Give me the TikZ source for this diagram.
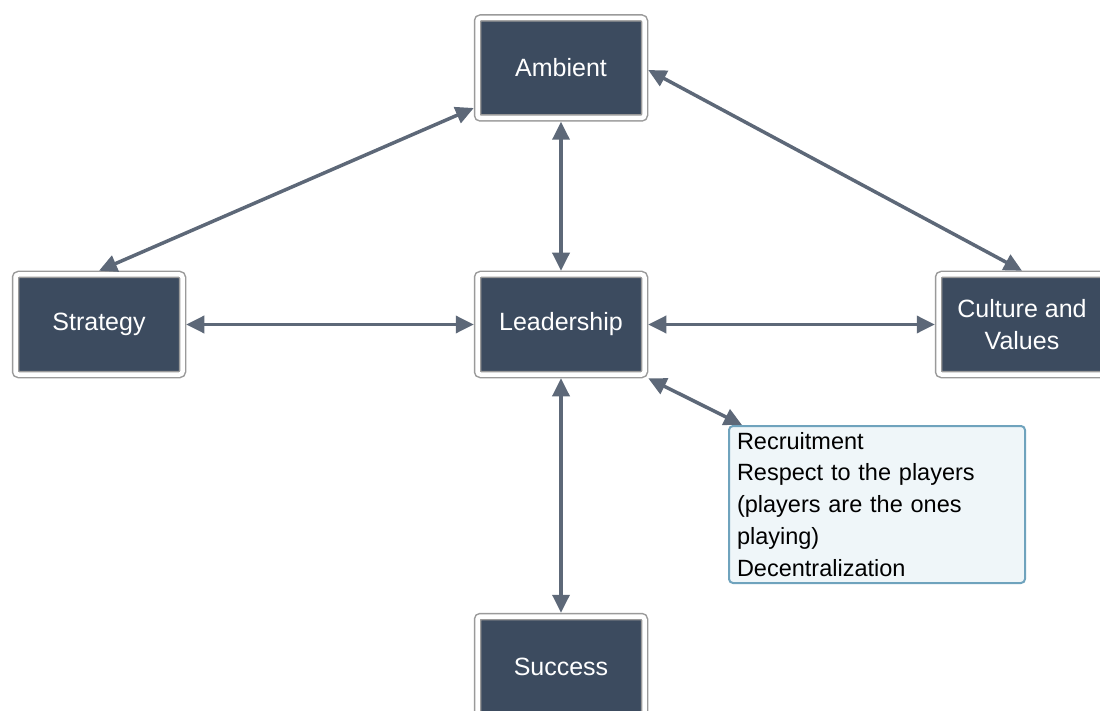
\documentclass[tikz,border=0pt]{standalone}
\usepackage{fontspec}
\setmainfont{Liberation Sans}
\usetikzlibrary{arrows.meta}
\definecolor{boxdark}{HTML}{3C4B5F}
\definecolor{arrowc}{HTML}{5D6878}
\definecolor{frameg}{HTML}{9A9A9A}
\definecolor{notefill}{HTML}{EFF6F9}
\definecolor{notedraw}{HTML}{6FA3BD}
\tikzset{
  mainbox/.style={rectangle, fill=boxdark, draw=frameg, double=white, double distance=4.5pt,
    line width=1.5pt, rounded corners=3pt, minimum width=167pt, minimum height=100pt,
    inner sep=0pt, outer sep=3.75pt, text=white, align=center,
    font=\fontsize{25}{32}\selectfont},
  notebox/.style={rectangle, fill=notefill, draw=notedraw, line width=2pt, rounded corners=4pt,
    minimum width=296pt, minimum height=157pt, anchor=north west, inner xsep=8pt, inner ysep=0pt,
    text width=280pt, align=left, font=\fontsize{23.5}{32}\selectfont, outer sep=1pt},
  link/.style={draw=arrowc, line width=3.5pt,
    {Triangle[length=18pt,width=17pt]}-{Triangle[length=18pt,width=17pt]}}
}
\begin{document}
\begin{tikzpicture}[x=1pt,y=-1pt]
\useasboundingbox (0,0) rectangle (1100,711);
\clip (0,0) rectangle (1100,711);
\node[mainbox] (amb) at (561,68) {Ambient};
\node[mainbox] (str) at (99,324.5) {Strategy};
\node[mainbox] (lead) at (561,324.5) {Leadership};
\node[mainbox] (cul) at (1022,324.5) {Culture and\\Values};
\node[mainbox] (suc) at (561,666.5) {Success};
\node[notebox] (note) at (728,425) {\vspace*{-1pt}Recruitment\\Respect to the players\\(players are the ones\\playing)\\Decentralization};
\draw[link] ([yshift=-40pt]amb.west) -- (str.north);
\draw[link] ([yshift=-2pt]amb.east) -- (cul.north);
\draw[link] (amb.south) -- (lead.north);
\draw[link] (str.east) -- (lead.west);
\draw[link] (lead.east) -- (cul.west);
\draw[link] (lead.south) -- (suc.north);
\draw[link] (lead.south east) -- ([xshift=14pt]note.north west);
\end{tikzpicture}
\end{document}
